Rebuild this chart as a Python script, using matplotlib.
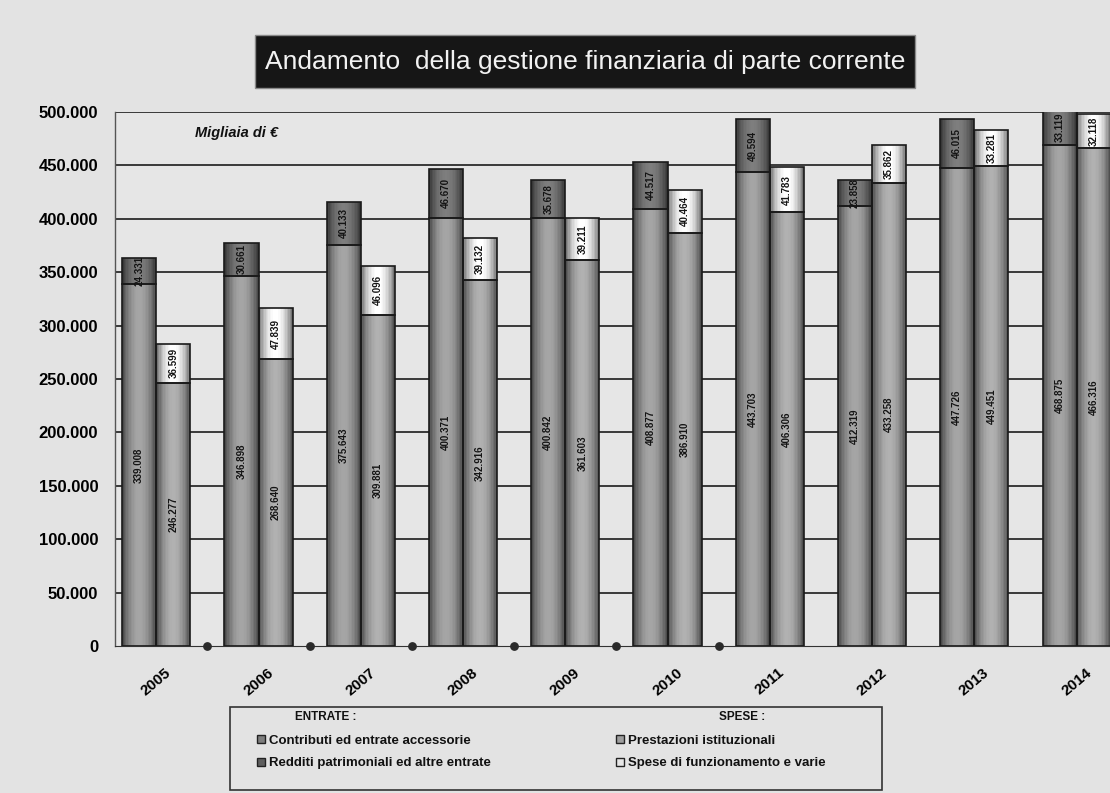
import numpy as np
import matplotlib
matplotlib.use("Agg")
import matplotlib.pyplot as plt
from matplotlib.patches import Rectangle
from matplotlib.lines import Line2D

plt.rcParams['font.family'] = ['Liberation Sans', 'DejaVu Sans']

# Migliaia di euro
years = ['2005', '2006', '2007', '2008', '2009', '2010', '2011', '2012', '2013', '2014']
contributi = [339008, 346898, 375643, 400371, 400842, 408877, 443703, 412319, 447726, 468875]
redditi = [24331, 30661, 40133, 46670, 35678, 44517, 49594, 23858, 46015, 33119]
prestazioni = [246277, 268640, 309881, 342916, 361603, 386910, 406306, 433258, 449451, 466316]
spese_funz = [36599, 47839, 46096, 39132, 39211, 40464, 41783, 35862, 33281, 32118]
# third (empty) slot of each year, present only in the first years
spacer = [0, 0, 0, 0, 0, 0, None, None, None, None]

y_ticks = [0, 50000, 100000, 150000, 200000, 250000, 300000, 350000, 400000, 450000, 500000]

labels_entrate = ['Contributi ed entrate accessorie', 'Redditi patrimoniali ed altre entrate']
labels_spese = ['Prestazioni istituzionali', 'Spese di funzionamento e varie']

col_contrib = np.array([0.58, 0.58, 0.58])
col_redditi = np.array([0.44, 0.44, 0.44])
col_prest = np.array([0.62, 0.62, 0.62])
col_funz = np.array([0.90, 0.90, 0.90])

bg = '#e3e3e3'
fig = plt.figure(figsize=(11.10, 7.93), dpi=100, facecolor=bg)
ax = fig.add_axes([115 / 1110, 1 - 646 / 793, 1 - 115 / 1110, (646 - 112) / 793])
ax.set_facecolor('#e6e6e6')

bw = 1 / 3
x = np.arange(len(years))
N_STRIPS = 24


def it_fmt(v):
    return f"{v:,}".replace(",", ".")


def cylinder_bars(xc, vals, bottom, base):
    """Stacked segment drawn as a shaded cylinder: thin vertical strips, dark at the rims."""
    vals = np.asarray(vals, dtype=float)
    bot = np.zeros_like(vals) if bottom is None else np.asarray(bottom, dtype=float)
    sw = bw / N_STRIPS
    for k in range(N_STRIPS):
        t = (k + 0.5) / N_STRIPS
        f = 0.42 + 0.70 * np.sin(np.pi * t) ** 0.8
        c = np.clip(base * f, 0, 1)
        ax.bar(xc - bw / 2 + k * sw, vals, sw, bottom=bot, align='edge',
               color=c, linewidth=0, zorder=2.5)
    bars = ax.bar(xc, vals, bw, bottom=bot, facecolor='none',
                  edgecolor='#1a1a1a', linewidth=1.2, zorder=3)
    return bars


def seg_labels(bars, values, size=7):
    for b, v in zip(bars, values):
        cx = b.get_x() + b.get_width() / 2
        cy = b.get_y() + b.get_height() / 2
        ax.text(cx, cy, it_fmt(v), rotation=90, ha='center', va='center',
                fontsize=size, fontweight='bold', color='#141414', zorder=5,
                clip_on=True)


series = [
    (x + bw / 2, contributi, None, col_contrib),
    (x + bw / 2, redditi, contributi, col_redditi),
    (x + 1.5 * bw, prestazioni, None, col_prest),
    (x + 1.5 * bw, spese_funz, prestazioni, col_funz),
]
for xs, vals, bottom, col in series:
    bars = cylinder_bars(xs, vals, bottom, col)
    seg_labels(bars, vals)

# markers of the empty third slot
sx = [xi + 2.5 * bw for xi, s in zip(x, spacer) if s is not None]
sy = [s for s in spacer if s is not None]
ax.scatter(sx, sy, s=28, marker='o', color='#2a2a2a', zorder=4, clip_on=False)

# grid
for yt in y_ticks[1:]:
    ax.axhline(yt, color='#2b2b2b', lw=1.3, zorder=1)

ax.set_ylim(0, 500000)
ax.set_xlim(-0.07, 9.66)
ax.set_yticks(y_ticks)
ax.set_yticklabels([it_fmt(v) for v in y_ticks], fontsize=12, fontweight='bold')
ax.set_xticks(x + bw)
ax.set_xticklabels(years, rotation=40, fontsize=11, fontweight='bold',
                   ha='center', va='top')
ax.tick_params(axis='y', length=0, pad=12)
ax.tick_params(axis='x', length=0, pad=14)
for s in ['top', 'right']:
    ax.spines[s].set_visible(False)
ax.spines['left'].set_color('#555555')
ax.spines['left'].set_linewidth(1.0)
ax.spines['bottom'].set_color('#333333')

ax.text(0.08, 0.96, 'Migliaia di €', transform=ax.transAxes, fontsize=10.5,
        fontweight='bold', fontstyle='italic', color='#111111', va='center')

# title box
fig.patches.append(Rectangle((255 / 1110, 1 - 88 / 793), 660 / 1110, 53 / 793,
                             transform=fig.transFigure, facecolor='#161616',
                             edgecolor='#8a8a8a', linewidth=1.0))
fig.text(585 / 1110, 1 - 62 / 793, 'Andamento  della gestione finanziaria di parte corrente',
         ha='center', va='center', fontsize=19, color='#f2f2f2')

# legend box
fig.patches.append(Rectangle((230 / 1110, 1 - 790 / 793), 652 / 1110, 83 / 793,
                             transform=fig.transFigure, facecolor='none',
                             edgecolor='#333333', linewidth=1.2))
fig.text(326 / 1110, 1 - 717 / 793, 'ENTRATE :', ha='center', va='center',
         fontsize=8.5, fontweight='bold', color='#111111')
fig.text(742 / 1110, 1 - 717 / 793, 'SPESE :', ha='center', va='center',
         fontsize=8.5, fontweight='bold', color='#111111')


def leg_handle(col):
    return Line2D([], [], marker='s', markersize=6, linestyle='none',
                  markerfacecolor=col, markeredgecolor='#222222', markeredgewidth=1.0)


handles = [leg_handle(col_contrib * 0.85), leg_handle(col_redditi * 0.85),
           leg_handle(col_prest), leg_handle(col_funz)]
leg = fig.legend(handles, labels_entrate + labels_spese, ncol=2,
                 loc='center left', bbox_to_anchor=(245 / 1110, 1 - 752 / 793),
                 frameon=False, handlelength=0.6, handletextpad=0.3,
                 columnspacing=9.5, labelspacing=0.75,
                 prop={'weight': 'bold', 'size': 9.5})
for t in leg.get_texts():
    t.set_color('#111111')

fig.savefig('out.png', dpi=100, facecolor=bg)
